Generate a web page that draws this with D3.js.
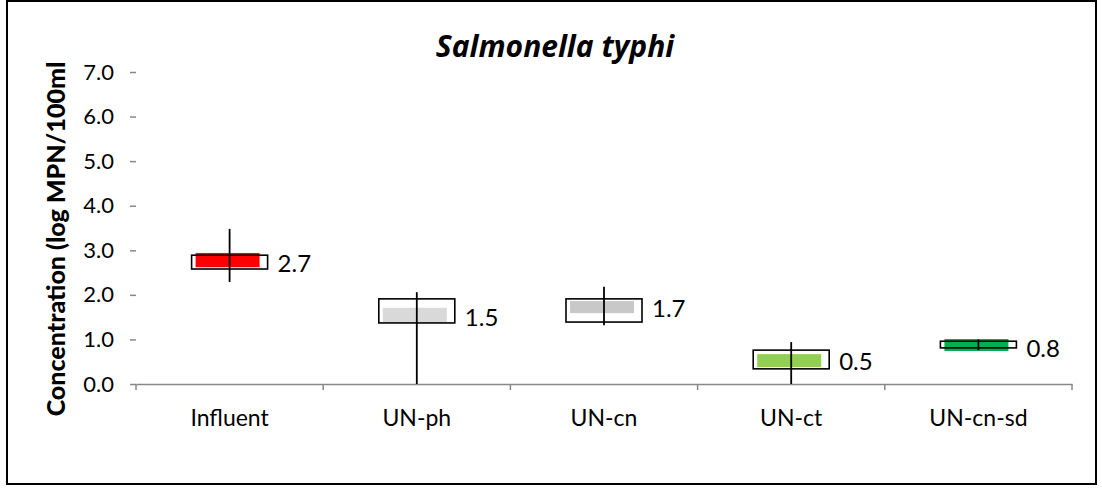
<!DOCTYPE html>
<html>
<head>
<meta charset="utf-8">
<script src="https://cdn.jsdelivr.net/npm/d3@7"></script>
<style>
  html, body { margin: 0; padding: 0; background: #fff; }
  svg { display: block; }
</style>
</head>
<body>
<svg id="chart" width="1102" height="489"></svg>
<script>
const categories = ["Influent", "UN-ph", "UN-cn", "UN-ct", "UN-cn-sd"];
const means      = [2.7, 1.5, 1.7, 0.5, 0.8];
const highs      = [3.48, 2.06, 2.18, 0.94, 1.00];
const lows       = [2.29, 0.00, 1.32, 0.00, 0.76];
const boxTops    = [2.89, 1.91, 1.91, 0.76, 0.96];
const boxBottoms = [2.58, 1.37, 1.39, 0.34, 0.81];
const barTops    = [2.94, 1.71, 1.86, 0.67, 1.01];
const barBottoms = [2.62, 1.39, 1.59, 0.38, 0.74];
const barColors  = ["#ff0000", "#d9d9d9", "#c8c8c8", "#92d050", "#00b050"];
const yTicks     = [0, 1, 2, 3, 4, 5, 6, 7];
const title      = "Salmonella typhi";
const yTitle     = "Concentration (log MPN/100ml";

const svg = d3.select("#chart");
const W = 1102, H = 489;
const m = { left: 136, right: 30, top: 72, bottom: 105 };

svg.append("rect").attr("x", 7).attr("y", 1).attr("width", W - 13).attr("height", H - 6)
  .attr("fill", "#fff").attr("stroke", "#000").attr("stroke-width", 2);

const x = d3.scaleBand().domain(categories).range([m.left, W - m.right]).paddingInner(0).paddingOuter(0);
const y = d3.scaleLinear().domain([0, 7]).range([H - m.bottom, m.top]);

const bodyFont = "Lato, 'Liberation Sans', sans-serif";

// X axis
const xAxis = svg.append("g").attr("transform", `translate(0,${y(0)})`)
  .call(d3.axisBottom(x).tickSize(0).tickPadding(26));
xAxis.select(".domain").attr("stroke", "#888").attr("stroke-width", 1.5);
xAxis.selectAll("text").attr("font-family", bodyFont)
  .attr("font-size", 23).attr("fill", "#000");
const bounds = categories.map(c => x(c)).concat([x(categories[categories.length - 1]) + x.bandwidth()]);
xAxis.selectAll(".bound").data(bounds).enter().append("line").attr("class", "bound")
  .attr("x1", d => d).attr("x2", d => d).attr("y1", 0).attr("y2", 6)
  .attr("stroke", "#888").attr("stroke-width", 1.5);

// Y axis
const yAxis = svg.append("g").attr("transform", `translate(${m.left},0)`)
  .call(d3.axisLeft(y).tickValues(yTicks).tickFormat(d3.format(".1f")).tickSize(6).tickPadding(16));
yAxis.select(".domain").remove();
yAxis.selectAll(".tick line").attr("stroke", "#888").attr("stroke-width", 1.5);
yAxis.selectAll("text").attr("font-family", bodyFont)
  .attr("font-size", 22).attr("fill", "#000");

// Title
svg.append("text").attr("x", 555).attr("y", 57).attr("text-anchor", "middle")
  .attr("font-family", "'Open Sans', sans-serif").attr("font-weight", "bold").attr("font-style", "italic")
  .attr("font-size", 30).attr("fill", "#000").text(title);

// Y title
svg.append("text").attr("transform", `translate(65,${239}) rotate(-90)`).attr("text-anchor", "middle")
  .attr("font-family", bodyFont).attr("font-weight", "900")
  .attr("font-size", 25).attr("fill", "#000").text(yTitle);

// Marks
const boxW = 76, barW = 64;
const data = categories.map((c, i) => ({ c, i }));
const g = svg.append("g");
const cx = d => x(d.c) + x.bandwidth() / 2;

g.selectAll(".boxfill").data(data).enter().append("rect")
  .attr("x", d => cx(d) - boxW / 2).attr("width", boxW)
  .attr("y", d => y(boxTops[d.i])).attr("height", d => y(boxBottoms[d.i]) - y(boxTops[d.i]))
  .attr("fill", "#fff");
g.selectAll(".bar").data(data).enter().append("rect")
  .attr("x", d => cx(d) - barW / 2 - 2).attr("width", barW)
  .attr("y", d => y(barTops[d.i])).attr("height", d => y(barBottoms[d.i]) - y(barTops[d.i]))
  .attr("fill", d => barColors[d.i]);
g.selectAll(".boxline").data(data).enter().append("rect")
  .attr("x", d => cx(d) - boxW / 2).attr("width", boxW)
  .attr("y", d => y(boxTops[d.i])).attr("height", d => y(boxBottoms[d.i]) - y(boxTops[d.i]))
  .attr("fill", "none").attr("stroke", "#000").attr("stroke-width", 1.6);
g.selectAll(".whisker").data(data).enter().append("line")
  .attr("x1", d => cx(d)).attr("x2", d => cx(d))
  .attr("y1", d => y(highs[d.i])).attr("y2", d => y(lows[d.i]))
  .attr("stroke", "#000").attr("stroke-width", 1.8);
g.selectAll(".lbl").data(data).enter().append("text")
  .attr("x", d => cx(d) + boxW / 2 + 10).attr("y", d => y(means[d.i]))
  .attr("dy", "0.35em")
  .attr("font-family", bodyFont).attr("font-size", 24).attr("fill", "#000")
  .text(d => d3.format(".1f")(means[d.i]));
</script>
</body>
</html>
